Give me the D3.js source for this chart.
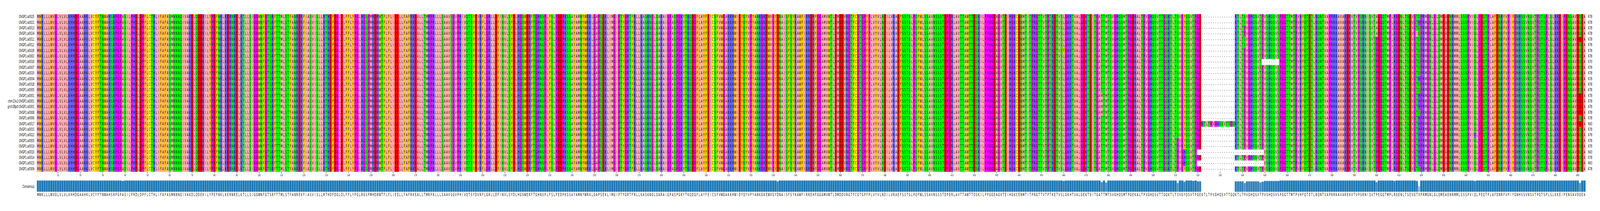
<!DOCTYPE html>
<html><head><meta charset="utf-8">
<script src="https://cdn.jsdelivr.net/npm/d3@7"></script>
<style>
html,body{margin:0;padding:0;background:#fff;overflow:hidden}
svg{display:block;width:100vw;height:539px}
text{font-family:"DejaVu Sans",sans-serif;fill:#000}
</style></head><body>
<svg id="c" viewBox="0 0 7216 539" preserveAspectRatio="none"></svg>
<script>
const rowIds = ["OVGP1:a0025","OVGP1:a0021","OVGP1:a0013","OVGP1:a0024","OVGP1:a0011","OVGP1:a0012","OVGP1:a0026","OVGP1:a0002","OVGP1:a0016","OVGP1:a0007","OVGP1:a0020","OVGP1:a0004","OVGP1:a0018","OVGP1:a0005","OVGP1:a0001","chm13v2:OVGP1:a0001","grch38p0:OVGP1:a0001","OVGP1:a0008","OVGP1:a0006","OVGP1:a0017","OVGP1:a0015","OVGP1:a0022","OVGP1:a0003","OVGP1:a0019","OVGP1:a0010","OVGP1:a0014","OVGP1:a0023","OVGP1:a0009"];
const seqLengths = [678,678,678,678,678,678,678,678,670,678,678,678,678,678,678,678,678,678,678,693,678,678,678,678,663,678,663,678];
const consensusBlocks = [
"MWKLLLWVGL","VLVLKHHDGA","AHKLVCYFTN","WAHSRPGPAS","ILPHDLDPFL","CTHLIFAFAS","MNNNQIVAKD","LQDEKILYPE","FNKLKERNRE",
"LKTLLSIGGW","NFGTSRFTTM","LSTFANREKF","IASVISLLRT","HDFDGLDLFF","LYPGLRGSPM","HDRWTFLFLI","EELLFAFRKE",
"ALLTMRPRLL","LSAAVSGVPH","IVQTSYDVRF","LGRLLDFINV","LSYDLHGSWE","RFTGHNSPLF","SLPEDPKSSA","YAMNYWRKLG","APSEKLIMGI",
"PTYGRTFRLL","KASKNGLQAR","AIGPASPGKY","TKQEGFLAYF","EICSFVWGAK","KHWIDYQYVP","YANKGKEWVG","YDNAISFSYK",
"AWFIRREHFG","GAMVWTLDMD","DVRGTFCGTG","PFPLVYVLND","ILVRAEFSST","SLPQFWLSSA","VNSSSTDPER","LAVTTAWTTD","SKILPPGGEA",
"GVTEIHGKCE","NMTITPRGTT","VTPTKETVSL","GKHTVALGEK","TEITGATTMT","SVGHQSMTPG","EKALTPVGHQ","SVTTGQKTLT","SVGYQSVTPG",
"EKTLTPVGHQ","SVTTGQKTLT","PVGHQSVTPV","SHQSVSPGGT","TMTPVHFQTE","TLRQNTVAPR","RKAVAREKVT",
"VPSRNISVTP","EGQTMPLRGE","NLTSEVGTXP","RMGNLGLQME","AENRMMLSSS","PVIQLPEQTP","LAFDNRFVPI","YGNHSSVNSV","TPQTSPLSLK","KEIPENSAVD","QEA"];
const substitutions = [
 {col:39, residue:"V", rows:[23]},
 {col:332,residue:"E", rows:[11,12]},
 {col:460,residue:"F", rows:[6]},
 {col:477,residue:"M", rows:[14,15,16,17]},
 {col:479,residue:"V", rows:[11,12,13,24,25]},
 {col:511,residue:"P", rows:[22,23,24,25,26,27]},
 {col:514,residue:"H", rows:[24,25,26]},
 {col:518,residue:"S", rows:[10]},
 {col:541,residue:"S", rows:[0,1,4,5]},
 {col:548,residue:"S", rows:[9,20,21]},
 {col:600,residue:"A", rows:[0,1,2,3]},
 {col:608,residue:"K", rows:[21]},
 {col:618,residue:"I", rows:[3]},
 {col:619,residue:"Q", rows:[0,2,3,4,5,6,7,8,9,10,12,13,17,27]},
 {col:619,residue:"H", rows:[1,11,14,15,16,18,19,20,21,22,23,24,25,26]},
 {col:644,residue:"K", rows:[21]},
 {col:691,residue:"E", rows:[4,14,15,16,17,19]}
];
const gapRuns = [
 {from:522,to:536,rows:[0,1,2,3,4,5,6,7,8,9,10,11,12,13,14,15,16,17,18,20,21,22,23,24,25,26,27]},
 {from:520,to:549,rows:[24,26]},
 {from:549,to:556,rows:[8]}
];
const tickCols = d3.range(10,691,10);
const residueGroups = {AILMV:"#ffafaf",FWY:"#ffc800",KRH:"#6464ff",DE:"#ff0000",STNQ:"#00ff00",GP:"#ff00ff",C:"#ffff00"};

const consensus = consensusBlocks.join("").split("");
const colour = {};
Object.entries(residueGroups).forEach(([k,v])=>k.split("").forEach(c=>colour[c]=v));

const rows = rowIds.map(()=>consensus.slice());
substitutions.forEach(s=>s.rows.forEach(r=>rows[r][s.col-1]=s.residue));
gapRuns.forEach(g=>g.rows.forEach(r=>{for(let c=g.from;c<=g.to;c++)rows[r][c-1]="-";}));

const cols = d3.range(1,consensus.length+1);
const x = d3.scaleBand().domain(cols).range([166,7151]);
const y = d3.scaleBand().domain(d3.range(rowIds.length)).range([36,439]);
const h = d3.scaleLinear().domain([0,1]).range([490,461]);
const identity = cols.map(c=>{
  const counts = d3.rollup(rows.map(r=>r[c-1]).filter(a=>a!=="-"),v=>v.length,a=>a);
  return d3.max(counts.values())/rows.length;
});
const svg = d3.select("#c");
const FS = 10;
const baseline = i=>Math.round(y(i)+y.bandwidth()/2+3);
const gCells = svg.append("g").attr("shape-rendering","crispEdges");
rows.forEach((r,i)=>{
  gCells.selectAll(null).data(cols.filter(c=>colour[r[c-1]])).join("rect")
    .attr("x",c=>x(c)).attr("y",y(i)).attr("width",x.bandwidth()+0.4).attr("height",y.bandwidth()+0.2)
    .attr("fill",c=>colour[r[c-1]]);
});
const gTxt = svg.append("g").attr("font-size",FS).attr("text-anchor","middle");
rows.forEach((r,i)=>{
  gTxt.selectAll(null).data(cols).join("text")
    .attr("x",c=>x(c)+x.bandwidth()/2).attr("y",baseline(i)).text(c=>r[c-1]);
});
svg.append("g").attr("font-size",FS).attr("text-anchor","end").selectAll("text").data(rowIds).join("text")
  .attr("x",155).attr("y",(d,i)=>baseline(i)).text(d=>d);
svg.append("g").attr("font-size",FS).selectAll("text").data(seqLengths).join("text")
  .attr("x",7162).attr("y",(d,i)=>baseline(i)).text(d=>d);

const axis = d3.axisBottom(x).tickValues(tickCols).tickSize(4).tickPadding(2);
const gAxis = svg.append("g").attr("transform","translate(0,439)").call(axis);
gAxis.select(".domain").remove();
gAxis.selectAll("text").attr("font-size",7).attr("font-family","DejaVu Sans").attr("fill","#000");
gAxis.selectAll("line").attr("stroke","#000").attr("stroke-width",1.2);

svg.append("g").selectAll("rect").data(cols).join("rect")
  .attr("x",c=>x(c)).attr("width",x.bandwidth())
  .attr("y",c=>h(identity[c-1])).attr("height",c=>h(0)-h(identity[c-1]))
  .attr("fill","#1f77b4").attr("fill-opacity",c=>identity[c-1])
  .attr("stroke","#add8e6").attr("stroke-width",1).attr("stroke-opacity",c=>identity[c-1]);
svg.append("text").attr("font-size",FS).attr("text-anchor","end").attr("x",155).attr("y",480.5).text("Consensus");
svg.append("g").attr("font-size",FS).attr("text-anchor","middle").selectAll("text").data(cols).join("text")
  .attr("x",c=>x(c)+x.bandwidth()/2).attr("y",501).text(c=>consensus[c-1]);
</script>
</body></html>
